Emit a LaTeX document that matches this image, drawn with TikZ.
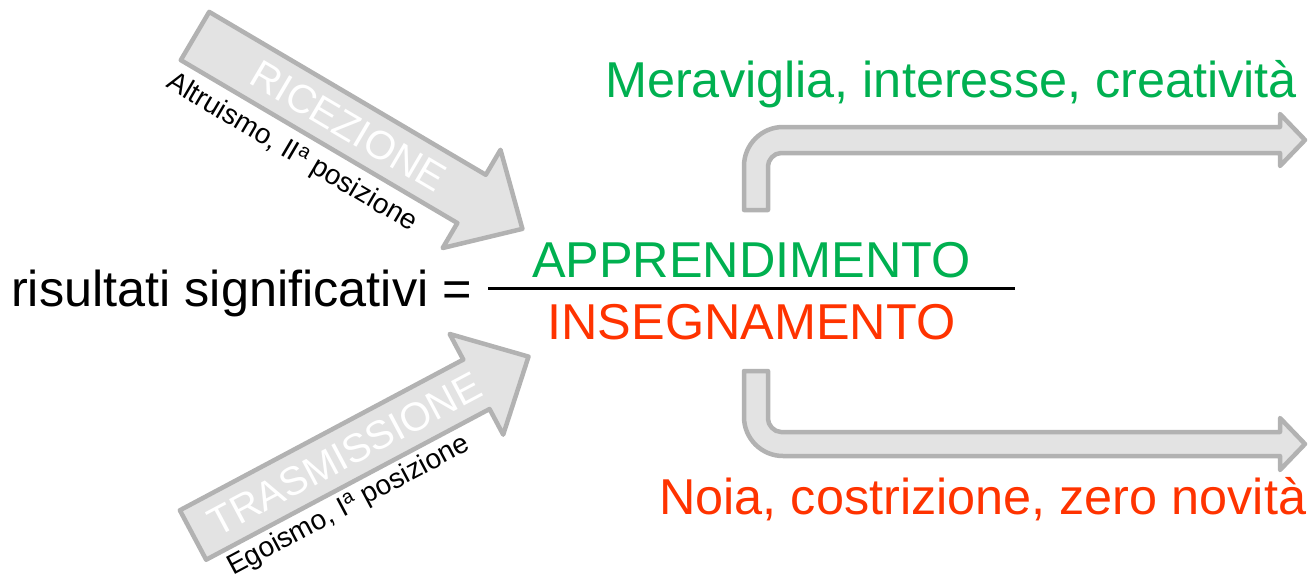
\documentclass[tikz,border=0pt]{standalone}
\usepackage{fontspec}
\setmainfont{Liberation Sans}
\usepackage{xcolor}
\usepackage{tikz}
\usetikzlibrary{arrows,shapes,positioning}

\begin{document}
\begin{tikzpicture}[x=1pt,y=-1pt]
    \definecolor{mygreen}{RGB}{0,176,80}
    \definecolor{myred}{RGB}{255,51,0}
    \definecolor{myfill}{RGB}{227,227,227}
    \definecolor{mydraw}{RGB}{178,178,178}
    \useasboundingbox (0,0) rectangle (1310,579);

    \tikzstyle{freccia}=[draw=mydraw,fill=myfill,line width=4.5pt,line join=round]  % 箭头块
    \tikzstyle{big}=[inner sep=0pt,font=\fontsize{50.4}{60}\selectfont]  % 大字
    \tikzstyle{inarrow}=[inner sep=0pt,text=white,font=\fontsize{40}{48}\selectfont]  % 箭头里的字
    \tikzstyle{small}=[inner sep=0pt,font=\fontsize{28}{34}\selectfont]  % 小字

    % 斜箭头
    \begin{scope}[shift={(195,36)},rotate=-30.5,transform shape]
      \draw[freccia] (0,-28)--(321,-28)--(321,-57)--(380,0)--(321,57)--(321,28)--(0,28)--cycle;
      \node[inarrow](ric) at (178,0){RICEZIONE};
      \node[small,anchor=base west](alt) at (0,59){Altruismo, II\textsuperscript{a} posizione};
    \end{scope}
    \begin{scope}[shift={(193,535)},rotate=28,transform shape]
      \draw[freccia] (0,-28)--(321,-28)--(321,-57)--(380,0)--(321,57)--(321,28)--(0,28)--cycle;
      \node[inarrow](tras) at (172,0){TRASMISSIONE};
      \node[small,anchor=base west](ego) at (16,55){Egoismo, I\textsuperscript{a} posizione};
    \end{scope}

    % 弯箭头
    \draw[freccia] (744,210) -- (744,166) .. controls (744,144.5) and (761.5,127) .. (783,127)
      -- (1280,127) -- (1280,114) -- (1305,140) -- (1280,166) -- (1280,153) -- (781,153)
      .. controls (773.8,153) and (768,160.2) .. (768,166) -- (768,210) -- cycle;
    \draw[freccia] (744,371) -- (744,417) .. controls (744,438.5) and (761.5,456) .. (783,456)
      -- (1280,456) -- (1280,470) -- (1305,444) -- (1280,418) -- (1280,432) -- (781,432)
      .. controls (773.8,432) and (768,424.8) .. (768,419) -- (768,371) -- cycle;

    % 文字
    \node[big,anchor=base west](eq) at (11,306){risultati significativi =};
    \node[big,anchor=base,text=mygreen](app) at (751.5,277){APPRENDIMENTO};
    \node[big,anchor=base,text=myred](ins) at (751.5,339){INSEGNAMENTO};
    \node[big,anchor=base west,text=mygreen](mer) at (605,97){Meraviglia, interesse, creatività};
    \node[big,anchor=base west,text=myred](noia) at (659,514){Noia, costrizione, zero novità};
    \draw[line width=3pt](488,288)--(1015,288);  % 分数线
\end{tikzpicture}
\end{document}
